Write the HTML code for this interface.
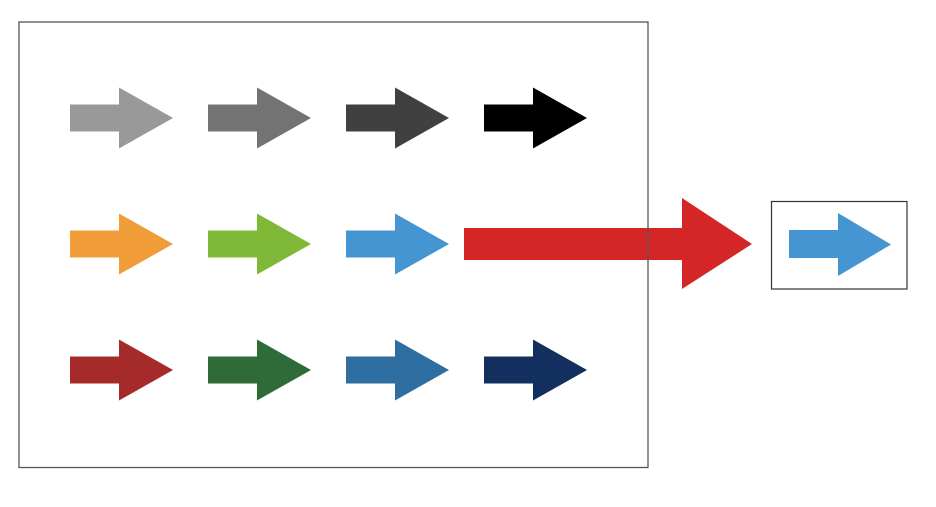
<!DOCTYPE html>
<html><head><meta charset="utf-8"><style>
html,body{margin:0;padding:0;background:#fff;width:936px;height:507px;overflow:hidden}
svg{display:block}
</style></head><body>
<svg width="936" height="507" viewBox="0 0 936 507" xmlns="http://www.w3.org/2000/svg">
<defs>
<path id="a" d="M0,-13.5 L49,-13.5 L49,-30.5 L103,0 L49,30.5 L49,13.5 L0,13.5 Z"/>
</defs>
<g>
<use href="#a" x="70" y="118" fill="#999999"/>
<use href="#a" x="208" y="118" fill="#737373"/>
<use href="#a" x="346" y="118" fill="#404040"/>
<use href="#a" x="484" y="118" fill="#000000"/>
<use href="#a" x="70" y="244" fill="#f09c38"/>
<use href="#a" x="208" y="244" fill="#80b838"/>
<use href="#a" x="346" y="244" fill="#4495d2"/>
<use href="#a" x="70" y="370" fill="#a52a2a"/>
<use href="#a" x="208" y="370" fill="#2e6b39"/>
<use href="#a" x="346" y="370" fill="#2e6ea0"/>
<use href="#a" x="484" y="370" fill="#132f5f"/>
</g>
<path d="M464,228 L682,228 L682,198 L752,244 L682,289 L682,260 L464,260 Z" fill="#d42626"/>
<rect x="19" y="22" width="629" height="445.5" fill="none" stroke="#555" stroke-width="1.3"/>
<rect x="771.5" y="201.5" width="135.5" height="87.5" fill="none" stroke="#333" stroke-width="1.2"/>
<path d="M789,230 L838,230 L838,213 L891,244.5 L838,276 L838,258 L789,258 Z" fill="#4495d2"/>
</svg>
</body></html>
